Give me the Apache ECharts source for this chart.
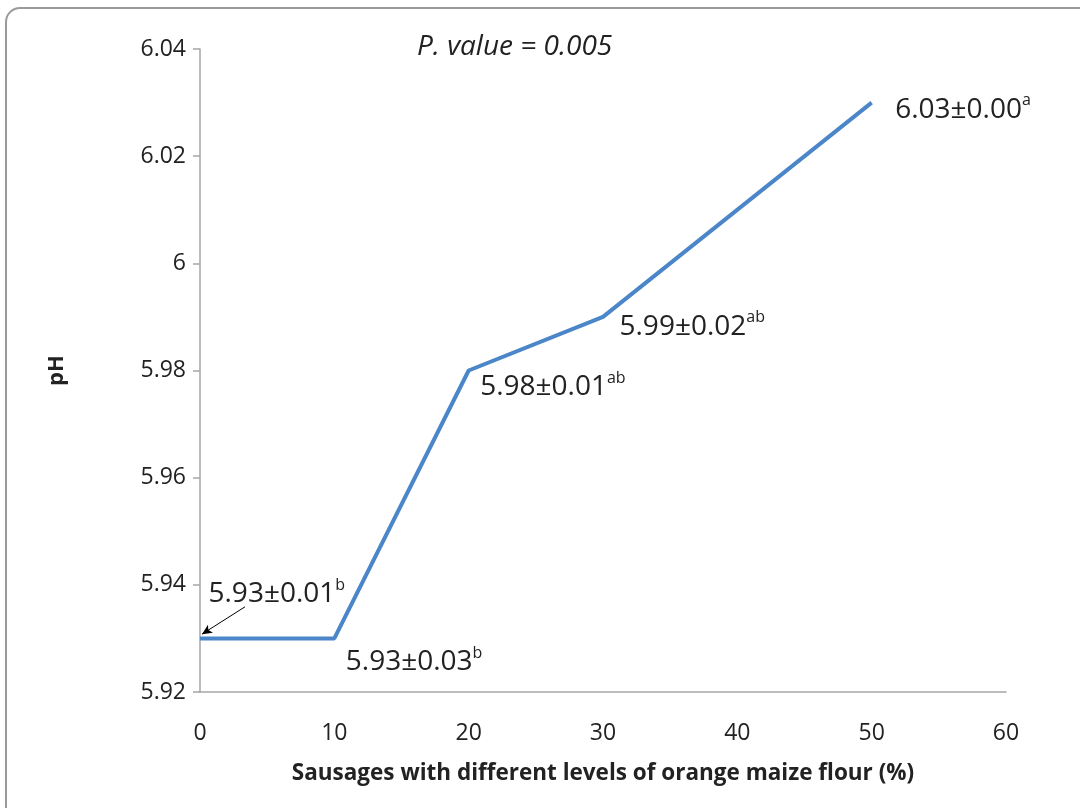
<!DOCTYPE html>
<html>
<head>
<meta charset="utf-8">
<script src="https://cdn.jsdelivr.net/npm/echarts@6/dist/echarts.min.js"></script>
<style>
html,body{margin:0;padding:0;background:#fff;}
#chart{width:1080px;height:808px;}
</style>
</head>
<body>
<div id="chart"></div>
<script>
// Data
const levels = [0, 10, 20, 30, 50];
const phValues = [5.93, 5.93, 5.98, 5.99, 6.03];
const phMeanText = ['5.93', '5.93', '5.98', '5.99', '6.03'];
const phSdText = ['0.01', '0.03', '0.01', '0.02', '0.00'];
const sigLetters = ['b', 'b', 'ab', 'ab', 'a'];
const xTicks = [0, 10, 20, 30, 40, 50, 60];
const yTicks = [5.92, 5.94, 5.96, 5.98, 6.00, 6.02, 6.04];

const FONT = '"Open Sans", "Noto Sans", sans-serif';
const labelOffsets = [[3, -44], [6, 24], [6, 17], [11, 10], [18, 7]];

const chart = echarts.init(document.getElementById('chart'));
const seriesData = levels.map((x, i) => ({
  value: [x, phValues[i]],
  label: {
    show: true,
    position: 'right',
    offset: labelOffsets[i],
    formatter: '{m|' + phMeanText[i] + '±' + phSdText[i] + '}{s|' + sigLetters[i] + '}'
  }
}));

chart.setOption({
  animation: false,
  graphic: [{
    type: 'rect',
    shape: { x: 6, y: 8, width: 1200, height: 900, r: 14 },
    style: { fill: 'none', stroke: '#9a9a9a', lineWidth: 2 },
    z: -1
  }, {
    type: 'text',
    left: 417, top: 33,
    style: { text: 'P. value = 0.005', font: 'italic 28px ' + FONT, fill: '#222' }
  }],
  grid: { left: 200, right: 74, top: 49, bottom: 116 },
  xAxis: {
    type: 'value', min: xTicks[0], max: xTicks[xTicks.length - 1], interval: 10,
    name: 'Sausages with different levels of orange maize flour (%)',
    nameLocation: 'middle', nameGap: 70,
    nameTextStyle: { fontFamily: FONT, fontWeight: 'bold', fontSize: 22.5, color: '#222' },
    axisLine: { show: true, lineStyle: { color: '#a6a6a6', width: 1.5 } },
    axisTick: { show: false },
    splitLine: { show: false },
    axisLabel: { fontFamily: FONT, fontSize: 23, color: '#222', margin: 30 }
  },
  yAxis: {
    type: 'value', min: yTicks[0], max: yTicks[yTicks.length - 1], interval: 0.02,
    name: 'pH', nameLocation: 'middle', nameGap: 132,
    nameTextStyle: { fontFamily: FONT, fontWeight: 'bold', fontSize: 22, color: '#222' },
    axisLine: { show: true, lineStyle: { color: '#a6a6a6', width: 1.5 } },
    axisTick: { show: true, length: 7, lineStyle: { color: '#a6a6a6', width: 1.5 } },
    splitLine: { show: false },
    axisLabel: {
      fontFamily: FONT, fontSize: 23, color: '#222', margin: 14,
      formatter: v => String(parseFloat(v.toFixed(2)))
    }
  },
  series: [{
    type: 'line',
    data: seriesData,
    symbol: 'circle',
    symbolSize: 1,
    showSymbol: true,
    itemStyle: { color: 'rgba(0,0,0,0)' },
    lineStyle: { color: '#4a86c8', width: 4 },
    label: {
      rich: {
        m: { fontFamily: FONT, fontSize: 28, color: '#222', lineHeight: 34 },
        s: { fontFamily: FONT, fontSize: 16, color: '#222', verticalAlign: 'top', lineHeight: 34, padding: [0, 0, 13, 0] }
      }
    },
    markLine: {
      silent: true,
      symbol: ['none', 'arrow'],
      symbolSize: [7, 10],
      label: { show: false },
      lineStyle: { color: '#000', width: 1, type: 'solid' },
      data: [[{ coord: [levels[0] + 3.35, phValues[0] + 0.0059] }, { coord: [levels[0] + 0.15, phValues[0] + 0.0008] }]]
    }
  }]
});
</script>
</body>
</html>
